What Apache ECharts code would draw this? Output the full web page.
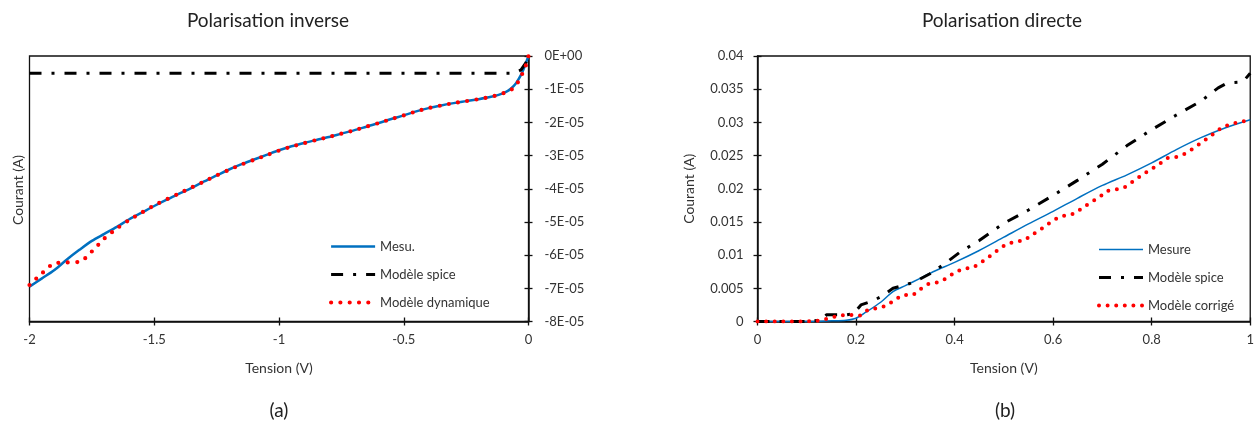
<!DOCTYPE html>
<html>
<head>
<meta charset="utf-8">
<script src="https://cdn.jsdelivr.net/npm/echarts@6/dist/echarts.min.js"></script>
<style>
  html, body { margin: 0; padding: 0; background: #fff; }
  #chart { width: 1257px; height: 430px; }
</style>
</head>
<body>
<div id="chart"></div>
<script>
// ---------- Polarisation inverse (a) ----------
const invX = [-2, -1.95, -1.9, -1.85, -1.8, -1.75, -1.7, -1.65, -1.6, -1.55, -1.5, -1.45, -1.4, -1.35, -1.3, -1.25, -1.2, -1.15, -1.1, -1.05, -1.0, -0.95, -0.9, -0.85, -0.8, -0.75, -0.7, -0.65, -0.6, -0.55, -0.5, -0.45, -0.4, -0.35, -0.3, -0.25, -0.2, -0.15, -0.12, -0.09, -0.07, -0.05, -0.03, -0.02, -0.01, 0];
// values in units of 1E-05 A
const invMesu = [-6.95, -6.70, -6.45, -6.13, -5.84, -5.57, -5.36, -5.15, -4.92, -4.72, -4.52, -4.33, -4.15, -3.97, -3.78, -3.60, -3.42, -3.26, -3.12, -2.98, -2.84, -2.72, -2.62, -2.53, -2.44, -2.34, -2.24, -2.13, -2.02, -1.90, -1.79, -1.67, -1.57, -1.49, -1.42, -1.36, -1.30, -1.23, -1.17, -1.08, -0.98, -0.82, -0.57, -0.40, -0.20, 0];
const invDyn = [-6.90, -6.55, -6.25, -6.22, -6.20, -5.89, -5.50, -5.20, -4.94, -4.72, -4.50, -4.32, -4.14, -3.96, -3.78, -3.60, -3.43, -3.27, -3.13, -2.99, -2.85, -2.73, -2.63, -2.53, -2.44, -2.34, -2.24, -2.13, -2.02, -1.90, -1.79, -1.67, -1.57, -1.49, -1.42, -1.36, -1.30, -1.23, -1.17, -1.09, -1.02, -0.88, -0.62, -0.45, -0.27, 0];
const invSpiceX = [-2, -0.06, -0.03, -0.01, 0];
const invSpice = [-0.52, -0.52, -0.42, -0.2, 0];

// ---------- Polarisation directe (b) ----------
const dirMesX = [0, 0.05, 0.1, 0.15, 0.18, 0.2, 0.22, 0.25, 0.275, 0.3, 0.33, 0.36, 0.4, 0.45, 0.5, 0.55, 0.6, 0.65, 0.7, 0.75, 0.8, 0.85, 0.9, 0.95, 1.0];
const dirMes = [0, 0, 0, 0.0001, 0.0002, 0.0005, 0.0014, 0.0029, 0.0045, 0.0054, 0.0065, 0.0076, 0.0089, 0.0107, 0.0127, 0.0147, 0.0166, 0.0186, 0.0205, 0.0221, 0.0239, 0.0259, 0.0277, 0.0292, 0.0304];
const dirSpiceX = [0, 0.1, 0.13, 0.14, 0.18, 0.195, 0.21, 0.23, 0.25, 0.275, 0.3, 0.32, 0.35, 0.38, 0.41, 0.45, 0.5, 0.55, 0.6, 0.65, 0.7, 0.75, 0.8, 0.85, 0.9, 0.935, 0.95, 0.965, 0.985, 1.0];
const dirSpice = [0, 0, 0.0002, 0.001, 0.001, 0.0012, 0.0025, 0.003, 0.0037, 0.005, 0.0055, 0.006, 0.0072, 0.0087, 0.0104, 0.0122, 0.0148, 0.0168, 0.019, 0.0213, 0.0237, 0.0265, 0.0289, 0.0311, 0.0332, 0.0352, 0.0358, 0.036, 0.0361, 0.0374];
const dirCorrX = [0, 0.1, 0.12, 0.14, 0.167, 0.187, 0.208, 0.225, 0.243, 0.262, 0.279, 0.295, 0.316, 0.329, 0.348, 0.366, 0.383, 0.4, 0.419, 0.437, 0.454, 0.471, 0.487, 0.504, 0.521, 0.541, 0.558, 0.575, 0.592, 0.609, 0.625, 0.645, 0.661, 0.678, 0.695, 0.711, 0.729, 0.747, 0.764, 0.781, 0.798, 0.815, 0.831, 0.85, 0.868, 0.885, 0.902, 0.919, 0.934, 0.951, 0.97, 0.988, 1.0];
const dirCorr = [0, 0, 0.0001, 0.0004, 0.0009, 0.001, 0.0009, 0.0018, 0.002, 0.0024, 0.0033, 0.004, 0.004, 0.0048, 0.0057, 0.0059, 0.0065, 0.0074, 0.008, 0.0081, 0.0089, 0.0098, 0.0107, 0.0116, 0.012, 0.0122, 0.0131, 0.0139, 0.0148, 0.0156, 0.016, 0.0163, 0.0172, 0.018, 0.0188, 0.0197, 0.0199, 0.0203, 0.0212, 0.0221, 0.0229, 0.0237, 0.0246, 0.0248, 0.0253, 0.0261, 0.027, 0.0279, 0.0288, 0.0295, 0.0299, 0.0302, 0.0304];

const FONT = 'Lato, "Open Sans", sans-serif';
const TXT = '#333';
const BLUE = '#0070C0';
const zip = (xs, ys, k) => xs.map((x, i) => [x, ys[i] * (k || 1)]);

const chart = echarts.init(document.getElementById('chart'), null, { renderer: 'canvas' });

function xAx(grid, min, max, interval, main, name) {
  return {
    type: 'value', gridIndex: grid, min, max, interval, position: 'bottom',
    name: main ? name : '', nameLocation: 'middle', nameGap: 40,
    nameTextStyle: { fontFamily: FONT, fontSize: 14, color: TXT },
    axisLine: { show: main, onZero: false, lineStyle: { color: '#111', width: 1.5 } },
    axisTick: { show: true, inside: !main, length: 4, lineStyle: { color: '#111', width: 1.3 } },
    axisLabel: { show: main, margin: 12, fontFamily: FONT, fontSize: 13, color: TXT,
      formatter: v => String(Math.round(v * 100) / 100) },
    splitLine: { show: false }
  };
}
function yAx(grid, min, max, interval, main, pos, fmt, name, gap) {
  return {
    type: 'value', gridIndex: grid, min, max, interval, position: pos,
    name: main ? name : '', nameLocation: 'middle', nameGap: gap || 0, nameRotate: 90,
    nameTextStyle: { fontFamily: FONT, fontSize: 14, color: TXT },
    axisLine: { show: main, onZero: false, lineStyle: { color: '#111', width: 1.5 } },
    axisTick: { show: true, inside: !main, length: 4, lineStyle: { color: '#111', width: 1.3 } },
    axisLabel: { show: main, margin: pos === 'right' ? 16 : 14, fontFamily: FONT, fontSize: 13, color: TXT, formatter: fmt },
    splitLine: { show: false }
  };
}
const expFmt = v => { const n = Math.round(v * 1e5); return n === 0 ? '0E+00' : n + 'E-05'; };
const decFmt = v => String(Math.round(v * 1000) / 1000);

const spiceDash = [12, 10, 3, 10];

const legendCommon = {
  orient: 'vertical', itemWidth: 44, itemHeight: 14, itemGap: 15, padding: 0,
  lineStyle: { width: 'inherit' },
  itemStyle: { opacity: 0, borderWidth: 0 },
  textStyle: { fontFamily: FONT, fontSize: 13, color: TXT }
};

const option = {
  animation: false,
  backgroundColor: '#fff',
  title: [
    { text: 'Polarisation inverse', left: 263, top: 6, textAlign: 'center',
      textStyle: { fontFamily: FONT, fontSize: 19, fontWeight: 'normal', color: '#222' } },
    { text: 'Polarisation directe', left: 997, top: 6, textAlign: 'center',
      textStyle: { fontFamily: FONT, fontSize: 19, fontWeight: 'normal', color: '#222' } }
  ],
  grid: [
    { left: 29.5, top: 56, width: 499, height: 265.5, show: true, borderColor: '#111', borderWidth: 1.3, backgroundColor: 'transparent' },
    { left: 757.5, top: 56, width: 494, height: 265.5, show: true, borderColor: '#111', borderWidth: 1.3, backgroundColor: 'transparent' }
  ],
  xAxis: [
    xAx(0, -2, 0, 0.5, true, 'Tension (V)'),
    xAx(0, -2, 0, 0.5, false),
    xAx(1, 0, 1, 0.2, true, 'Tension (V)'),
    xAx(1, 0, 1, 0.2, false)
  ],
  yAxis: [
    yAx(0, -8e-5, 0, 1e-5, true, 'right', expFmt),
    yAx(0, -8e-5, 0, 1e-5, false, 'right', expFmt),
    yAx(1, 0, 0.04, 0.005, true, 'left', decFmt, 'Courant (A)', 61),
    yAx(1, 0, 0.04, 0.005, false, 'left', decFmt)
  ],
  legend: [
    Object.assign({ data: ['Mesu.', 'Modèle spice', 'Modèle dynamique'], left: 329, top: 240 }, legendCommon),
    Object.assign({ data: ['Mesure', 'Modèle spice ', 'Modèle corrigé'], left: 1097, top: 243 }, legendCommon)
  ],
  series: [
    { name: 'Mesu.', type: 'line', xAxisIndex: 0, yAxisIndex: 0, data: zip(invX, invMesu, 1e-5),
      showSymbol: false, symbol: 'none', smooth: 0.3, lineStyle: { color: BLUE, width: 2.5 }, itemStyle: { color: BLUE } },
    { name: 'Modèle spice', type: 'line', xAxisIndex: 0, yAxisIndex: 0, data: zip(invSpiceX, invSpice, 1e-5),
      showSymbol: false, symbol: 'none', lineStyle: { color: '#000', width: 3, type: spiceDash }, itemStyle: { color: '#000' } },
    { name: 'Modèle dynamique', type: 'line', xAxisIndex: 0, yAxisIndex: 0, data: zip(invX, invDyn, 1e-5),
      showSymbol: false, symbol: 'none', smooth: 0.3, lineStyle: { color: '#FF0000', width: 4.2, type: [0, 9.3], cap: 'round' }, itemStyle: { color: '#FF0000' } },

    { name: 'Mesure', type: 'line', xAxisIndex: 2, yAxisIndex: 2, data: zip(dirMesX, dirMes),
      showSymbol: false, symbol: 'none', smooth: 0.3, lineStyle: { color: BLUE, width: 1.5 }, itemStyle: { color: BLUE } },
    { name: 'Modèle spice ', type: 'line', xAxisIndex: 2, yAxisIndex: 2, data: zip(dirSpiceX, dirSpice),
      showSymbol: false, symbol: 'none', lineStyle: { color: '#000', width: 3, type: spiceDash }, itemStyle: { color: '#000' } },
    { name: 'Modèle corrigé', type: 'line', xAxisIndex: 2, yAxisIndex: 2, data: zip(dirCorrX, dirCorr),
      showSymbol: false, symbol: 'none', lineStyle: { color: '#FF0000', width: 4, type: [0, 8.6], cap: 'round' }, itemStyle: { color: '#FF0000' } }
  ],
  graphic: [
    { type: 'text', x: 18, y: 190, rotation: Math.PI / 2,
      style: { text: 'Courant (A)', font: '14px ' + FONT, fill: TXT, textAlign: 'center', textVerticalAlign: 'middle' } },
    { type: 'text', x: 279, y: 411,
      style: { text: '(a)', font: '19px ' + FONT, fill: '#222', textAlign: 'center', textVerticalAlign: 'middle' } },
    { type: 'text', x: 1005, y: 411,
      style: { text: '(b)', font: '19px ' + FONT, fill: '#222', textAlign: 'center', textVerticalAlign: 'middle' } }
  ]
};
chart.setOption(option);
</script>
</body>
</html>
